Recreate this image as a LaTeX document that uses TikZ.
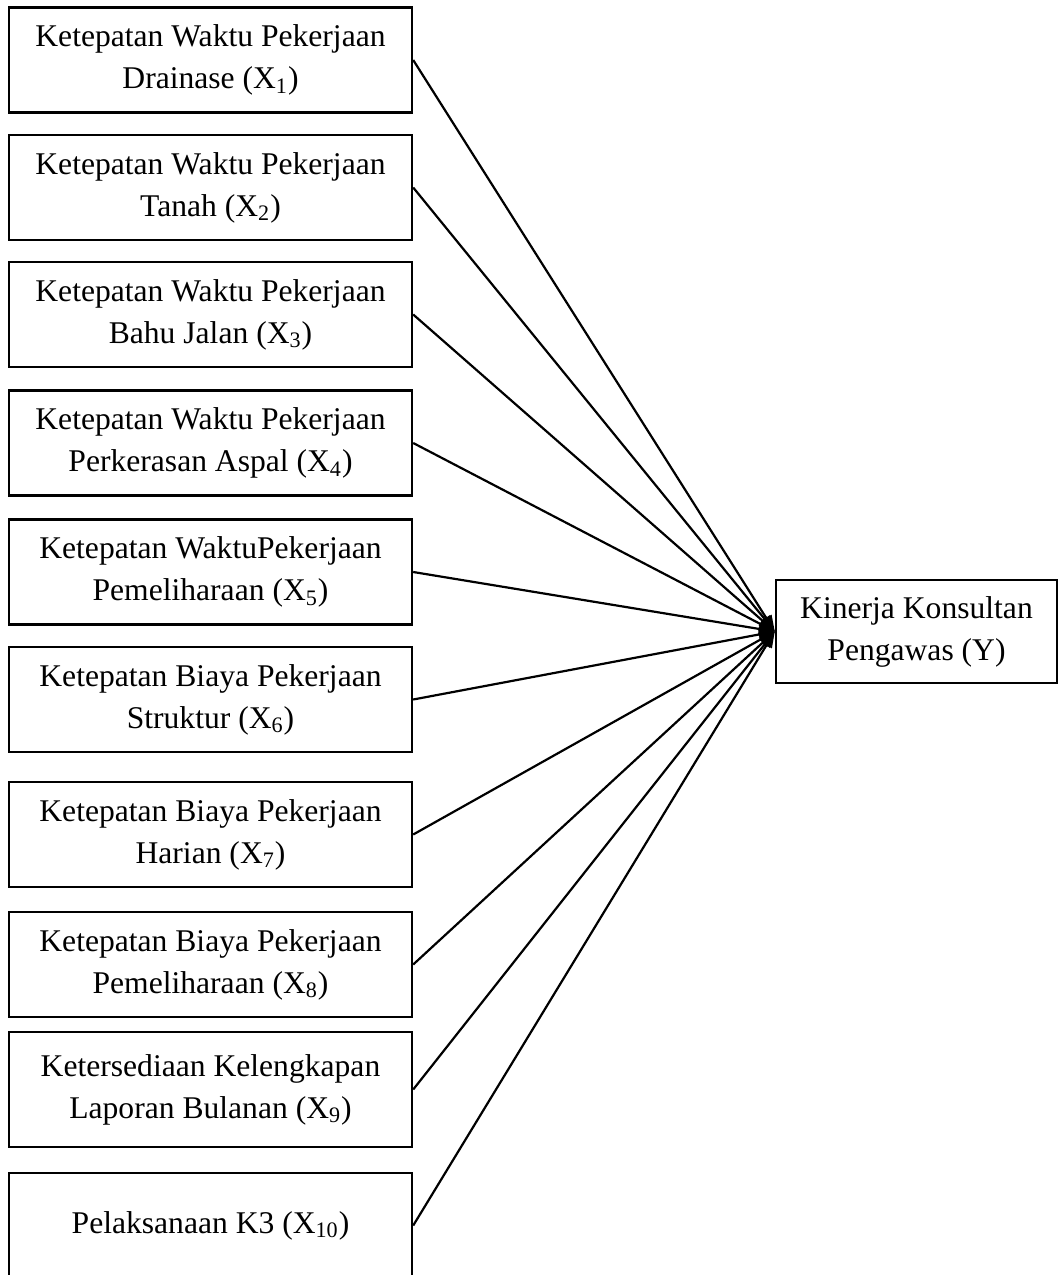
\documentclass[tikz,border=0pt]{standalone}
\usepackage{fontspec}
\setmainfont{Liberation Serif}
\usepackage{tikz}
\usetikzlibrary{arrows.meta}

\tikzset{
  factor/.style={draw, line width=1.2pt, align=center, inner sep=0pt,
    minimum width=201.5pt, minimum height=52.5pt,
    font=\fontsize{15.8}{21}\selectfont},
  outcome/.style={factor, minimum width=140.5pt, minimum height=51.5pt},
  link/.style={line width=1.1pt, -{Triangle[length=8pt, width=6pt]}}
}

\begin{document}
\begin{tikzpicture}[x=0.5pt, y=-0.5pt]
  \useasboundingbox (0,0) rectangle (1060,1275);
  \clip (0,0) rectangle (1060,1275);

  \node (X1) [factor] at (210.5,60) {Ketepatan Waktu Pekerjaan\\Drainase (X\textsubscript{1})};
  \node (X2) [factor] at (210.5,187.5) {Ketepatan Waktu Pekerjaan\\Tanah (X\textsubscript{2})};
  \node (X3) [factor] at (210.5,314.5) {Ketepatan Waktu Pekerjaan\\Bahu Jalan (X\textsubscript{3})};
  \node (X4) [factor] at (210.5,443) {Ketepatan Waktu Pekerjaan\\Perkerasan Aspal (X\textsubscript{4})};
  \node (X5) [factor] at (210.5,572) {Ketepatan WaktuPekerjaan\\Pemeliharaan (X\textsubscript{5})};
  \node (X6) [factor] at (210.5,699.5) {Ketepatan Biaya Pekerjaan\\Struktur (X\textsubscript{6})};
  \node (X7) [factor] at (210.5,834.5) {Ketepatan Biaya Pekerjaan\\Harian (X\textsubscript{7})};
  \node (X8) [factor] at (210.5,964.5) {Ketepatan Biaya Pekerjaan\\Pemeliharaan (X\textsubscript{8})};
  \node (X9) [factor, minimum height=57.5pt] at (210.5,1089.5) {Ketersediaan Kelengkapan\\Laporan Bulanan (X\textsubscript{9})};
  \node (X10) [factor] at (210.5,1225.5) {Pelaksanaan K3 (X\textsubscript{10})};

  \node (Y) [outcome] at (916.5,631.5) {Kinerja Konsultan\\Pengawas (Y)};

  \draw [link] (X1.east) -- (Y.west);
  \draw [link] (X2.east) -- (Y.west);
  \draw [link] (X3.east) -- (Y.west);
  \draw [link] (X4.east) -- (Y.west);
  \draw [link] (X5.east) -- (Y.west);
  \draw [link] (X6.east) -- (Y.west);
  \draw [link] (X7.east) -- (Y.west);
  \draw [link] (X8.east) -- (Y.west);
  \draw [link] (X9.east) -- (Y.west);
  \draw [link] (X10.east) -- (Y.west);

\end{tikzpicture}
\end{document}
